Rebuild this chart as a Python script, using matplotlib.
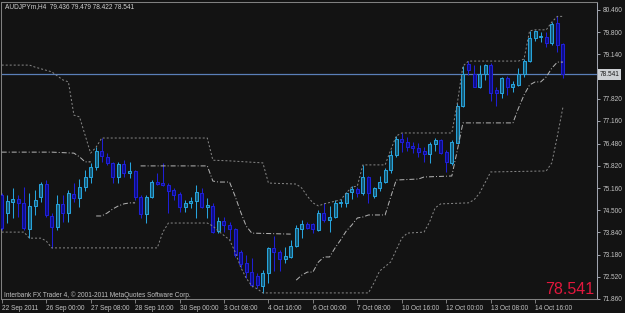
import matplotlib
matplotlib.use('Agg')
import matplotlib.pyplot as plt
from matplotlib.patches import Rectangle
from matplotlib.transforms import blended_transform_factory
import numpy as np

plt.rcParams['font.family'] = ['Liberation Sans', 'DejaVu Sans']

# ---------------- data (AUDJPYm, H4) ----------------
opens = [74.96, 74.42, 74.75, 74.84, 74.72, 73.94, 74.63, 74.90, 75.28, 74.33,
         74.00, 74.69, 74.42, 74.98, 74.87, 75.19, 75.49, 75.79, 76.26, 76.09,
         75.91, 75.49, 75.88, 75.61, 75.67, 74.90, 74.39, 74.90, 75.34, 75.31,
         75.25, 75.10, 74.98, 74.60, 74.72, 74.78, 75.01, 74.60, 74.63, 73.88,
         74.18, 74.06, 73.94, 73.26, 72.93, 72.66, 72.54, 72.25, 72.63, 73.38,
         73.26, 73.05, 73.11, 73.44, 73.94, 74.09, 74.09, 73.91, 74.42, 74.21,
         74.30, 74.72, 74.72, 75.04, 75.13, 75.01, 75.49, 74.93, 75.16, 75.34,
         75.70, 76.15, 76.62, 76.53, 76.41, 76.35, 76.26, 76.18, 76.47, 76.59,
         76.23, 75.91, 76.50, 77.60, 78.85, 78.56, 78.17, 78.56, 78.82, 78.08,
         77.99, 78.44, 78.17, 78.23, 78.56, 78.94, 79.63, 79.66, 79.66, 79.48,
         80.07, 79.436]
highs = [75.01, 74.96, 75.16, 74.96, 75.19, 75.01, 75.10, 75.34, 75.40, 74.42,
         74.96, 74.96, 75.10, 75.31, 75.43, 75.70, 75.91, 76.38, 76.65, 76.20,
         75.94, 75.94, 76.00, 75.94, 75.70, 74.96, 74.96, 75.40, 75.61, 75.91,
         75.31, 75.16, 75.04, 74.81, 74.90, 75.25, 75.16, 74.87, 74.72, 74.30,
         74.30, 74.15, 73.97, 73.32, 73.17, 73.08, 72.63, 72.72, 73.41, 73.73,
         73.32, 73.41, 73.62, 74.06, 74.21, 74.15, 74.12, 74.51, 74.72, 74.63,
         74.81, 74.84, 75.04, 75.22, 75.19, 75.85, 75.52, 75.19, 75.52, 75.76,
         76.29, 76.71, 76.80, 76.68, 76.53, 76.50, 76.38, 76.53, 76.65, 76.62,
         76.29, 76.59, 77.69, 78.79, 78.94, 78.82, 78.82, 78.85, 78.88, 78.17,
         78.47, 78.50, 78.35, 78.73, 79.00, 79.84, 79.87, 79.81, 79.81, 80.10,
         80.27, 79.479]
lows = [73.91, 74.12, 74.27, 74.30, 73.91, 73.68, 74.36, 74.75, 74.30, 73.38,
        73.91, 74.15, 74.15, 74.75, 74.60, 75.07, 75.31, 75.70, 75.94, 75.85,
        75.31, 75.31, 75.49, 75.46, 74.81, 74.27, 74.12, 74.87, 75.25, 75.22,
        74.42, 74.81, 74.45, 74.45, 74.57, 74.27, 74.57, 74.27, 73.82, 73.82,
        73.85, 73.62, 73.11, 72.78, 72.48, 72.22, 72.19, 72.04, 72.34, 72.69,
        72.69, 72.93, 73.08, 73.41, 73.68, 73.94, 73.82, 73.88, 74.15, 73.85,
        74.27, 74.60, 74.60, 74.84, 74.90, 74.96, 74.72, 74.87, 75.07, 75.31,
        75.61, 76.09, 76.23, 76.26, 76.20, 76.09, 75.94, 75.91, 76.26, 76.18,
        75.64, 75.85, 76.50, 77.57, 78.53, 78.17, 78.14, 78.38, 77.75, 77.60,
        77.84, 77.93, 78.02, 78.20, 78.47, 78.91, 79.54, 79.51, 79.36, 79.42,
        79.21, 78.422]
closes = [73.97, 74.78, 74.84, 74.72, 73.97, 74.63, 74.81, 75.28, 74.36, 74.00,
          74.69, 74.42, 75.01, 74.87, 75.19, 75.49, 75.79, 76.26, 76.12, 75.91,
          75.49, 75.88, 75.61, 75.67, 74.90, 74.39, 74.90, 75.34, 75.28, 75.25,
          75.07, 74.96, 74.60, 74.72, 74.78, 75.04, 74.60, 74.66, 73.85, 74.18,
          74.06, 73.94, 73.17, 72.90, 72.66, 72.28, 72.28, 72.63, 73.38, 73.26,
          73.05, 73.14, 73.44, 73.97, 74.09, 73.97, 73.94, 74.42, 74.21, 74.30,
          74.72, 74.75, 75.01, 75.13, 75.01, 75.49, 75.01, 75.16, 75.34, 75.70,
          76.15, 76.62, 76.53, 76.38, 76.35, 76.23, 76.18, 76.47, 76.59, 76.20,
          75.94, 76.53, 77.60, 78.56, 78.67, 78.17, 78.56, 78.82, 77.99, 77.99,
          78.44, 78.17, 78.26, 78.56, 78.94, 79.63, 79.84, 79.69, 79.48, 80.04,
          79.42, 78.541]

# Turtle channel: outer (20) channel, dotted
upper_bars = [0, 5, 6, 9, 10, 11, 12, 13, 14, 15, 16, 17, 18, 37, 38, 41, 47, 48,
              53, 54, 55, 56, 57, 58, 61, 62, 63, 64, 65, 69, 70, 71, 72, 81, 82,
              83, 84, 93, 94, 95, 96, 98, 99, 100, 101]
upper_vals = [78.82, 78.82, 78.76, 78.62, 78.50, 78.38, 78.32, 77.33, 77.28, 76.74,
              76.20, 76.38, 76.65, 76.65, 75.99, 75.97, 75.91, 75.31, 75.28, 75.16,
              74.92, 74.72, 74.63, 74.69, 74.81, 75.01, 75.19, 75.22, 75.85, 75.85,
              76.29, 76.71, 76.80, 76.80, 77.69, 78.79, 78.94, 78.94, 79.00, 79.84,
              79.87, 79.87, 80.10, 80.27, 80.27]
lower_bars = [0, 4, 5, 7, 8, 9, 28, 29, 30, 37, 38, 39, 41, 42, 43, 44, 45, 46, 47,
              66, 67, 68, 70, 71, 72, 73, 76, 77, 78, 79, 84, 85, 86, 88, 98, 99,
              100, 101]
lower_vals = [73.85, 73.85, 73.67, 73.67, 73.59, 73.38, 73.38, 73.85, 74.12, 74.12,
              74.03, 73.88, 73.62, 73.26, 72.81, 72.48, 72.25, 72.16, 72.04, 72.04,
              72.34, 72.69, 72.96, 73.32, 73.67, 73.82, 73.85, 74.15, 74.57, 74.69,
              74.72, 74.81, 75.01, 75.64, 75.67, 75.91, 76.71, 77.57]

# exit (10) channel, dash-dot, drawn on the side opposite to the trend
exit_segments_bars = [
    [0, 9, 13, 14, 15, 16],
    [17, 18, 19, 20, 21, 22, 23, 24],
    [25, 37, 38, 39, 41, 42, 43, 44, 45, 52],
    [53, 54, 55, 56, 57, 58, 59, 60, 61, 62, 63, 64, 65, 66, 69, 70, 71, 75, 76,
     81, 82, 83, 92, 93, 94, 95, 96, 97, 98, 99, 100, 101],
]
exit_segments_vals = [
    [76.23, 76.23, 76.20, 76.09, 75.94, 75.94],
    [74.33, 74.33, 74.42, 74.54, 74.63, 74.69, 74.72, 74.72],
    [75.82, 75.82, 75.37, 75.34, 75.34, 74.92, 74.45, 74.03, 73.82, 73.79],
    [72.42, 72.57, 72.66, 72.66, 72.96, 73.11, 73.11, 73.38, 73.62, 73.88, 74.06,
     74.27, 74.30, 74.36, 74.36, 74.89, 75.40, 75.43, 75.49, 75.52, 76.29, 77.10,
     77.10, 77.54, 77.93, 78.23, 78.32, 78.32, 78.47, 78.73, 78.91, 78.91],
]

last_price = 78.541
title_text = 'AUDJPYm,H4  79.436 79.479 78.422 78.541'
copyright_text = 'Interbank FX Trader 4, \u00a9 2001-2011 MetaQuotes Software Corp.'

xtick_bars = [0, 8, 16, 24, 32, 40, 48, 56, 64, 72, 80, 88, 96]
xtick_labels = ['22 Sep 2011', '26 Sep 00:00', '27 Sep 08:00', '28 Sep 16:00',
                '30 Sep 00:00', '3 Oct 08:00', '4 Oct 16:00', '6 Oct 00:00',
                '7 Oct 08:00', '10 Oct 16:00', '12 Oct 00:00', '13 Oct 08:00',
                '14 Oct 16:00']
ytick_vals = [80.460, 79.800, 79.140, 77.820, 77.160, 76.480, 75.820, 75.160,
              74.500, 73.840, 73.180, 72.520, 71.860]

# ---------------- style ----------------
BG = '#131313'
SPINE = '#808080'
TXT = '#c4c4c4'
BULL_EDGE = '#27a3dc'
BULL_FACE = '#16566f'
BEAR_EDGE = '#1f1fd6'
BEAR_FACE = '#0d0d86'
DOT_COL = '#868686'
DASHDOT_COL = '#b2b2b2'
FS = 4.7

W, H = 625, 313
fig = plt.figure(figsize=(W / 100, H / 100), dpi=100)
fig.patch.set_facecolor(BG)
ax = fig.add_axes([1.5 / W, (H - 299) / H, (597 - 1.5) / W, (299 - 2) / H])
ax.set_facecolor(BG)

ax.set_xlim(-0.036, 107.13)
ax.set_ylim(71.859, 80.698)

# price line
ax.axhline(last_price, color='#5a7fb8', lw=0.9, zorder=1)

# candles
bw = 0.54
for i in range(len(opens)):
    o, h, l, c = opens[i], highs[i], lows[i], closes[i]
    up = c >= o
    ec = BULL_EDGE if up else BEAR_EDGE
    fc = BULL_FACE if up else BEAR_FACE
    ax.vlines(i, l, h, color=ec, lw=0.75, zorder=2)
    ax.add_patch(Rectangle((i - bw / 2, min(o, c)), bw, max(abs(c - o), 0.012),
                           facecolor=fc, edgecolor=ec, lw=0.75, zorder=3))

# channel lines
ax.plot(upper_bars, upper_vals, color=DOT_COL, lw=0.72, ls=(0, (2, 2)), zorder=4)
ax.plot(lower_bars, lower_vals, color=DOT_COL, lw=0.72, ls=(0, (2, 2)), zorder=4)
for bx, vy in zip(exit_segments_bars, exit_segments_vals):
    ax.plot(bx, vy, color=DASHDOT_COL, lw=0.72, ls=(0, (5, 2, 1, 2)), zorder=4)

# axes styling
for s in ['left', 'top', 'bottom']:
    ax.spines[s].set_color(SPINE)
    ax.spines[s].set_linewidth(0.75)
ax.spines['right'].set_color('#a0a4ae')
ax.spines['right'].set_linewidth(0.75)

ax.set_xticks(xtick_bars)
ax.set_xticklabels(xtick_labels)
for lbl in ax.get_xticklabels():
    lbl.set_horizontalalignment('left')
ax.tick_params(axis='x', length=2.8, width=0.7, color=SPINE, labelcolor=TXT,
               labelsize=FS, pad=1.2)
ax.yaxis.tick_right()
ax.set_yticks(ytick_vals)
ax.set_yticklabels(['%.3f' % v for v in ytick_vals])
ax.tick_params(axis='y', length=2.5, width=0.7, color='#a0a4ae', labelcolor=TXT,
               labelsize=FS, pad=1.5)

# bid price label on the axis
tr = blended_transform_factory(ax.transAxes, ax.transData)
ax.text(1.004, last_price, '%.3f' % last_price, transform=tr, fontsize=FS,
        color='#1a1a1a', ha='left', va='center', zorder=6, clip_on=False,
        bbox=dict(boxstyle='square,pad=0.25', fc='#cdd0d4', ec='none'))

# texts
fig.text(5 / W, 1 - 7 / H, title_text, color='#d2d2d2', fontsize=FS,
         ha='left', va='center')
fig.text(4 / W, 1 - 295 / H, copyright_text, color='#c2c2c2', fontsize=FS,
         ha='left', va='center')
fig.text(594 / W, 1 - 289.5 / H, '%.3f' % last_price, color='#e3173d',
         fontsize=11.5, ha='right', va='center')

fig.savefig('out.png', dpi=100, facecolor=BG)
